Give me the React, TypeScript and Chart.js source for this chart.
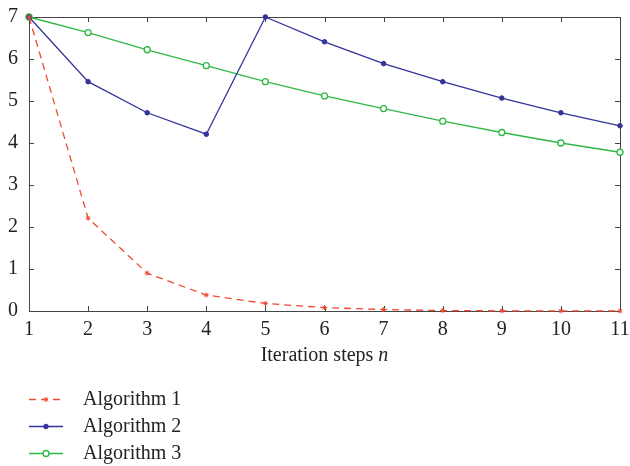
import React, { useEffect, useRef } from "react";
import { Chart, registerables } from "chart.js";

Chart.register(...registerables);

const steps = [1, 2, 3, 4, 5, 6, 7, 8, 9, 10, 11];
const algorithm1 = [7, 2.21, 0.9, 0.38, 0.18, 0.08, 0.035, 0.01, 0.004, 0.002, 0.001];
const algorithm2 = [7, 5.46, 4.72, 4.21, 7, 6.41, 5.89, 5.46, 5.07, 4.72, 4.41];
const algorithm3 = [7, 6.63, 6.22, 5.84, 5.46, 5.12, 4.82, 4.52, 4.25, 4.0, 3.78];
const seriesNames = ["Algorithm 1", "Algorithm 2", "Algorithm 3"];
const xTitle = "Iteration steps ";
const xTitleItalic = "n";

const RED = "#ee4a33";
const BLUE = "#333399";
const GREEN = "#2fb845";
const AXIS = "#444444";
const FONT = "'Liberation Serif', 'DejaVu Serif', serif";
const FS = 20;

const framePlugin = {
  id: "frame",
  beforeDatasetsDraw(chart: any) {
    const { ctx, chartArea: a, scales } = chart;
    ctx.save();
    ctx.strokeStyle = AXIS;
    ctx.lineWidth = 1;
    ctx.strokeRect(a.left + 0.5, a.top + 0.5, a.right - a.left, a.bottom - a.top);
    const tl = 5;
    ctx.beginPath();
    scales.x.ticks.forEach((t: any) => {
      const px = Math.round(scales.x.getPixelForValue(t.value)) + 0.5;
      ctx.moveTo(px, a.bottom);
      ctx.lineTo(px, a.bottom - tl);
      ctx.moveTo(px, a.top);
      ctx.lineTo(px, a.top + tl);
    });
    scales.y.ticks.forEach((t: any) => {
      const py = Math.round(scales.y.getPixelForValue(t.value)) + 0.5;
      ctx.moveTo(a.left, py);
      ctx.lineTo(a.left + tl, py);
      ctx.moveTo(a.right, py);
      ctx.lineTo(a.right - tl, py);
    });
    ctx.stroke();
    ctx.restore();
  },
  afterDraw(chart: any) {
    const { ctx, chartArea: a } = chart;
    ctx.save();
    ctx.fillStyle = "#222";
    ctx.textBaseline = "middle";
    ctx.font = `${FS}px ${FONT}`;
    const w1 = ctx.measureText(xTitle).width;
    ctx.font = `italic ${FS}px ${FONT}`;
    const w2 = ctx.measureText(xTitleItalic).width;
    const cx = (a.left + a.right) / 2;
    const x0 = cx - (w1 + w2) / 2;
    const ty = a.bottom + 45;
    ctx.textAlign = "left";
    ctx.font = `${FS}px ${FONT}`;
    ctx.fillText(xTitle, x0, ty);
    ctx.font = `italic ${FS}px ${FONT}`;
    ctx.fillText(xTitleItalic, x0 + w1, ty);

    const rows = [399, 426, 453];
    chart.data.datasets.forEach((ds: any, i: number) => {
      const y = rows[i] + 0.5;
      ctx.strokeStyle = ds.borderColor;
      ctx.lineWidth = ds.borderWidth;
      ctx.setLineDash(ds.borderDash || []);
      ctx.beginPath();
      ctx.moveTo(29, y);
      ctx.lineTo(63, y);
      ctx.stroke();
      ctx.setLineDash([]);
      const mx = 46;
      if (ds.pointStyle === "star") {
        ctx.lineWidth = 1;
        ctx.beginPath();
        ctx.moveTo(mx - 2, y - 2); ctx.lineTo(mx + 2, y + 2);
        ctx.moveTo(mx - 2, y + 2); ctx.lineTo(mx + 2, y - 2);
        ctx.moveTo(mx, y - 2.5); ctx.lineTo(mx, y + 2.5);
        ctx.stroke();
      } else {
        ctx.beginPath();
        ctx.arc(mx, y, ds.pointRadius, 0, Math.PI * 2);
        ctx.fillStyle = ds.pointBackgroundColor;
        ctx.fill();
        ctx.lineWidth = ds.pointBorderWidth;
        ctx.stroke();
      }
      ctx.fillStyle = "#222";
      ctx.font = `${FS}px ${FONT}`;
      ctx.textAlign = "left";
      ctx.textBaseline = "middle";
      ctx.fillText(ds.label, 83, y);
    });
    ctx.restore();
  },
};

export default function App() {
  const ref = useRef<HTMLCanvasElement>(null);
  useEffect(() => {
    const mk = (vals: number[]) => steps.map((s, i) => ({ x: s, y: vals[i] }));
    const chart = new Chart(ref.current!, {
      type: "line",
      data: {
        datasets: [
          {
            label: seriesNames[0],
            data: mk(algorithm1),
            borderColor: RED,
            backgroundColor: RED,
            borderWidth: 1.3,
            borderDash: [7, 5],
            pointStyle: "star",
            pointRadius: 2.5,
            pointBorderWidth: 1,
            pointBorderColor: RED,
            pointBackgroundColor: RED,
            clip: false,
          } as any,
          {
            label: seriesNames[1],
            data: mk(algorithm2),
            borderColor: BLUE,
            backgroundColor: BLUE,
            borderWidth: 1.3,
            pointStyle: "circle",
            pointRadius: 2.3,
            pointBorderWidth: 1,
            pointBorderColor: BLUE,
            pointBackgroundColor: BLUE,
            clip: false,
          } as any,
          {
            label: seriesNames[2],
            data: mk(algorithm3),
            borderColor: GREEN,
            backgroundColor: GREEN,
            borderWidth: 1.3,
            pointStyle: "circle",
            pointRadius: 3,
            pointBorderWidth: 1.3,
            pointBorderColor: GREEN,
            pointBackgroundColor: "#ffffff",
            clip: false,
          } as any,
        ],
      },
      options: {
        animation: false,
        responsive: false,
        layout: { padding: { top: 17, right: 10, left: 0, bottom: 0 } },
        plugins: { legend: { display: false }, tooltip: { enabled: false } },
        elements: { line: { tension: 0 } },
        scales: {
          x: {
            type: "linear",
            min: 1,
            max: 11,
            grid: { display: false, drawTicks: false },
            border: { display: false },
            ticks: {
              stepSize: 1,
              padding: 7,
              color: "#222",
              font: { family: FONT, size: FS },
              maxRotation: 0,
            },
            afterFit: (s: any) => {
              s.height = 155;
              s.paddingLeft = 0;
              s.paddingRight = 0;
            },
          },
          y: {
            min: 0,
            max: 7,
            grid: { display: false, drawTicks: false },
            border: { display: false },
            ticks: {
              stepSize: 1,
              padding: 11,
              color: "#222",
              font: { family: FONT, size: FS },
            },
            afterFit: (s: any) => {
              s.width = 29;
              s.paddingTop = 0;
              s.paddingBottom = 0;
            },
          },
        },
      },
      plugins: [framePlugin],
    });
    return () => chart.destroy();
  }, []);
  return (
    <div style={{ position: "absolute", left: 0, top: 0, width: 630, height: 466, background: "#fff" }}>
      <canvas ref={ref} width={630} height={466} />
    </div>
  );
}
